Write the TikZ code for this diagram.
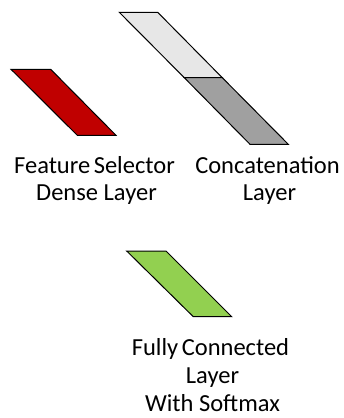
\documentclass[tikz,border=0pt]{standalone}
\usepackage{fontspec}
\setmainfont{Carlito}
\definecolor{selred}{HTML}{C00000}
\definecolor{concatlight}{HTML}{E7E7E7}
\definecolor{concatdark}{HTML}{A0A0A0}
\definecolor{fcgreen}{HTML}{92D050}
\begin{document}
\begin{tikzpicture}[x=1pt,y=-1pt,
  layer/.style={draw=black,line width=1pt,line join=miter},
  lbl/.style={anchor=base,inner sep=0pt,font=\fontsize{24.5}{29}\selectfont}]
\useasboundingbox (0,0) rectangle (343,418);
% Feature selector dense layer
\filldraw[layer,fill=selred] (11,69.3) -- (50.7,69.3) -- (116,135.3) -- (77.3,135.3) -- cycle;
% Concatenation layer
\filldraw[layer,fill=concatlight] (119.3,12.3) -- (157.7,12.3) -- (222.3,77.7) -- (184.3,77.7) -- cycle;
\filldraw[layer,fill=concatdark] (184.3,77.7) -- (222.3,77.7) -- (288.3,144.3) -- (250,144.3) -- cycle;
\draw[line width=1.5pt] (184.3,77.7) -- (222.3,77.7);
% Fully connected layer
\filldraw[layer,fill=fcgreen] (126.7,251) -- (166,251) -- (231.7,316.7) -- (193.3,316.7) -- cycle;
% Labels
\node[lbl] (fs1) at (94.5,173) {Feature\hspace{-2pt} Selector};
\node[lbl] (fs2) at (96.5,200) {Dense Layer};
\node[lbl] (cc1) at (267.5,173) {Concatenation};
\node[lbl] (cc2) at (269.5,200) {Layer};
\node[lbl] (fc1) at (210.5,355) {Fully\hspace{-2pt} Connected};
\node[lbl] (fc2) at (212.5,383.5) {Layer};
\node[lbl] (fc3) at (212.5,411) {With Softmax};
\end{tikzpicture}
\end{document}
